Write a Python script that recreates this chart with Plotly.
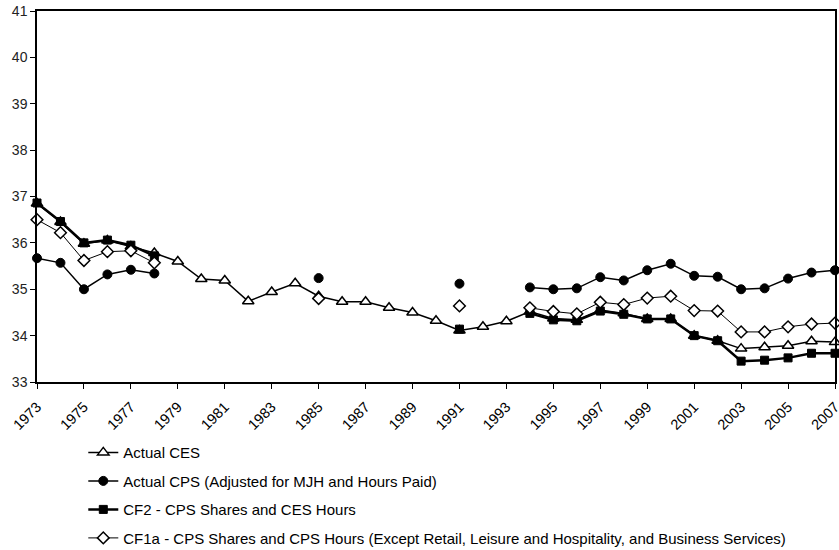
import plotly.graph_objects as go

years = list(range(1973, 2008))

ces = [36.85, 36.45, 35.98, 36.05, 35.92, 35.78, 35.60, 35.22, 35.19, 34.74,
       34.94, 35.13, 34.85, 34.73, 34.73, 34.60, 34.50, 34.32, 34.11, 34.19,
       34.31, 34.52, 34.37, 34.34, 34.55, 34.48, 34.36, 34.36, 34.00, 33.89,
       33.72, 33.75, 33.78, 33.88, 33.86]

cps = [35.67, 35.57, 35.00, 35.32, 35.42, 35.34, None, None, None, None,
       None, None, 35.24, None, None, None, None, None, 35.12, None,
       None, 35.04, 35.00, 35.02, 35.26, 35.19, 35.41, 35.55, 35.29, 35.27,
       35.00, 35.02, 35.23, 35.36, 35.41]

cf2 = [36.86, 36.46, 36.00, 36.06, 35.95, 35.72, None, None, None, None,
       None, None, None, None, None, None, None, None, 34.14, None,
       None, 34.48, 34.34, 34.32, 34.53, 34.46, 34.36, 34.36, 34.00, 33.89,
       33.45, 33.47, 33.52, 33.62, 33.62]

cf1a = [36.50, 36.22, 35.62, 35.81, 35.83, 35.57, None, None, None, None,
        None, None, 34.80, None, None, None, None, None, 34.64, None,
        None, 34.60, 34.52, 34.47, 34.72, 34.67, 34.81, 34.85, 34.54, 34.53,
        34.08, 34.08, 34.19, 34.25, 34.27]

names = ["Actual CES",
         "Actual CPS (Adjusted for MJH and Hours Paid)",
         "CF2 - CPS Shares and CES Hours",
         "CF1a - CPS Shares and CPS Hours (Except Retail, Leisure and Hospitality, and Business Services)"]

FONT = "Liberation Sans, Arial, sans-serif"

fig = go.Figure()
fig.add_trace(go.Scatter(
    x=years, y=ces, name=names[0], legendgroup="a", mode="lines+markers",
    line=dict(color="black", width=1.5),
    marker=dict(symbol="triangle-up", size=10, color="white",
                line=dict(color="black", width=1.5)),
    connectgaps=False, cliponaxis=False))
fig.add_trace(go.Scatter(
    x=years, y=cps, name=names[1], legendgroup="b", mode="lines+markers",
    line=dict(color="black", width=1.5),
    marker=dict(symbol="circle", size=9, color="black",
                line=dict(color="black", width=1)),
    connectgaps=False, cliponaxis=False))
fig.add_trace(go.Scatter(
    x=years, y=cf2, name=names[2], legendgroup="c", mode="lines+markers",
    line=dict(color="black", width=2.5),
    marker=dict(symbol="square", size=8, color="black",
                line=dict(color="black", width=1)),
    connectgaps=False, cliponaxis=False))
fig.add_trace(go.Scatter(
    x=years, y=cf1a, name=names[3], legendgroup="d", mode="lines+markers",
    line=dict(color="black", width=1),
    marker=dict(symbol="diamond", size=9, color="white",
                line=dict(color="black", width=1.5)),
    connectgaps=False, cliponaxis=False))

fig.update_layout(
    width=839, height=550,
    margin=dict(l=37, r=4, t=11, b=168, autoexpand=False),
    paper_bgcolor="white", plot_bgcolor="white",
    font=dict(family=FONT, size=13, color="black"),
    showlegend=True,
    legend=dict(x=0.058, y=0.207, yref="container", xanchor="left", yanchor="top",
                orientation="v", tracegroupgap=6,
                font=dict(family=FONT, size=15, color="black"),
                bgcolor="rgba(0,0,0,0)"),
    xaxis=dict(range=[1973, 2007], tickmode="linear", tick0=1973, dtick=2,
               tickangle=-45, ticks="outside", ticklen=5, tickcolor="black",
               showgrid=False, zeroline=False, showline=True, linecolor="black",
               linewidth=1.5, mirror=True, automargin=False,
               ticklabeloverflow="allow", ticklabelstandoff=4,
               tickfont=dict(family=FONT, size=14.5, color="black")),
    yaxis=dict(range=[33, 41], tickmode="linear", tick0=33, dtick=1,
               ticks="outside", ticklen=5, tickcolor="black",
               showgrid=False, zeroline=False, showline=True, linecolor="black",
               linewidth=1.5, mirror=True, automargin=False,
               tickfont=dict(family=FONT, size=14, color="#222")),
)

fig.write_html("out.html", config={"displayModeBar": False},
               post_script="document.body.style.margin='0';document.body.style.overflow='hidden';")
